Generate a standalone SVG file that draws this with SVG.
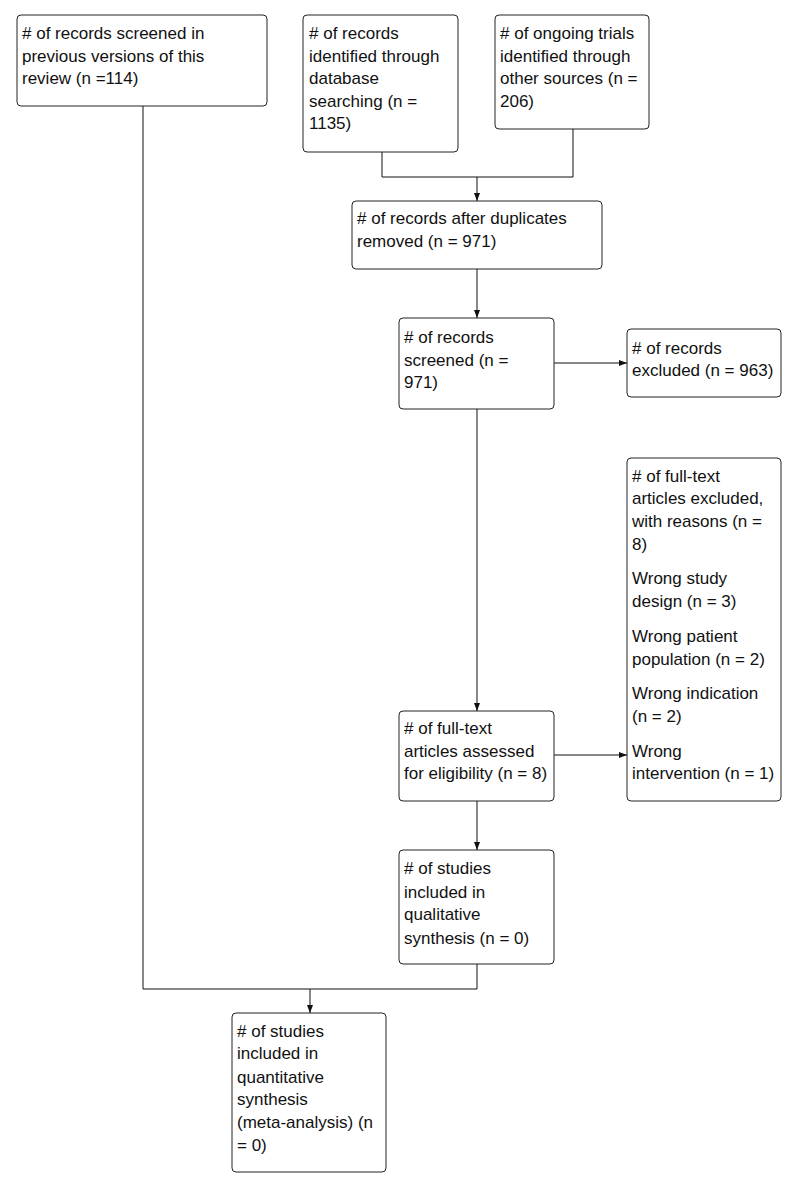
<svg xmlns="http://www.w3.org/2000/svg" width="800" height="1188" viewBox="0 0 800 1188">
<style>
.box{fill:#fff;stroke:#222;stroke-width:1}
.t{font-family:"Liberation Sans",Arial,sans-serif;font-size:17px;fill:#111}
.c{fill:none;stroke:#111;stroke-width:1}
</style>
<defs>
<marker id="ar" viewBox="0 0 8 8" refX="8" refY="4" markerWidth="8" markerHeight="8" markerUnits="userSpaceOnUse" orient="auto">
<path d="M0,1 L8,4 L0,7 Z" fill="#111"/>
</marker>
</defs>
<rect width="800" height="1188" fill="#fff"/>
<g id="connectors">
<path class="c" d="M143,106 V989 H477 V964"/>
<path class="c" d="M310,989 V1013" marker-end="url(#ar)"/>
<path class="c" d="M382,152 V177 H573 V129"/>
<path class="c" d="M477,177 V201" marker-end="url(#ar)"/>
<path class="c" d="M477,269 V318" marker-end="url(#ar)"/>
<path class="c" d="M554,363 H627" marker-end="url(#ar)"/>
<path class="c" d="M477,409 V711" marker-end="url(#ar)"/>
<path class="c" d="M554,755 H627" marker-end="url(#ar)"/>
<path class="c" d="M477,801 V850" marker-end="url(#ar)"/>
</g>
<g id="n1"><rect class="box" x="17" y="15" width="250" height="91" rx="4"/>
<text class="t" x="22" y="39">
<tspan x="22" y="39"># of records screened in</tspan><tspan x="22" y="62">previous versions of this</tspan><tspan x="22" y="84">review (n =114)</tspan></text></g>
<g id="n2"><rect class="box" x="303" y="15" width="155" height="137" rx="4"/>
<text class="t"><tspan x="309" y="39"># of records</tspan><tspan x="309" y="62">identified through</tspan><tspan x="309" y="84">database</tspan><tspan x="309" y="107">searching (n =</tspan><tspan x="309" y="129">1135)</tspan></text></g>
<g id="n3"><rect class="box" x="495" y="15" width="154" height="114" rx="4"/>
<text class="t"><tspan x="500" y="39"># of ongoing trials</tspan><tspan x="500" y="62">identified through</tspan><tspan x="500" y="84">other sources (n =</tspan><tspan x="500" y="107">206)</tspan></text></g>
<g id="n4"><rect class="box" x="352" y="201" width="250" height="68" rx="4"/>
<text class="t"><tspan x="357" y="224"># of records after duplicates</tspan><tspan x="357" y="247">removed (n = 971)</tspan></text></g>
<g id="n5"><rect class="box" x="399" y="318" width="155" height="91" rx="4"/>
<text class="t"><tspan x="404" y="343"># of records</tspan><tspan x="404" y="366">screened (n =</tspan><tspan x="404" y="388">971)</tspan></text></g>
<g id="n6"><rect class="box" x="627" y="329" width="154" height="68" rx="4"/>
<text class="t"><tspan x="632" y="354"># of records</tspan><tspan x="632" y="376">excluded (n = 963)</tspan></text></g>
<g id="n7"><rect class="box" x="627" y="458" width="154" height="343" rx="4"/>
<text class="t"><tspan x="632" y="482"># of full-text</tspan><tspan x="632" y="504">articles excluded,</tspan><tspan x="632" y="527">with reasons (n =</tspan><tspan x="632" y="550">8)</tspan><tspan x="632" y="584">Wrong study</tspan><tspan x="632" y="607">design (n = 3)</tspan><tspan x="632" y="642">Wrong patient</tspan><tspan x="632" y="665">population (n = 2)</tspan><tspan x="632" y="699">Wrong indication</tspan><tspan x="632" y="722">(n = 2)</tspan><tspan x="632" y="757">Wrong</tspan><tspan x="632" y="779">intervention (n = 1)</tspan></text></g>
<g id="n8"><rect class="box" x="399" y="711" width="155" height="90" rx="4"/>
<text class="t"><tspan x="404" y="734"># of full-text</tspan><tspan x="404" y="757">articles assessed</tspan><tspan x="404" y="779">for eligibility (n = 8)</tspan></text></g>
<g id="n9"><rect class="box" x="399" y="850" width="155" height="114" rx="4"/>
<text class="t"><tspan x="404" y="874"># of studies</tspan><tspan x="404" y="898">included in</tspan><tspan x="404" y="920">qualitative</tspan><tspan x="404" y="944">synthesis (n = 0)</tspan></text></g>
<g id="n10"><rect class="box" x="232" y="1013" width="154" height="159" rx="4"/>
<text class="t"><tspan x="237" y="1037"># of studies</tspan><tspan x="237" y="1059">included in</tspan><tspan x="237" y="1083">quantitative</tspan><tspan x="237" y="1105">synthesis</tspan><tspan x="237" y="1128">(meta-analysis) (n</tspan><tspan x="237" y="1151">= 0)</tspan></text></g>
</svg>
